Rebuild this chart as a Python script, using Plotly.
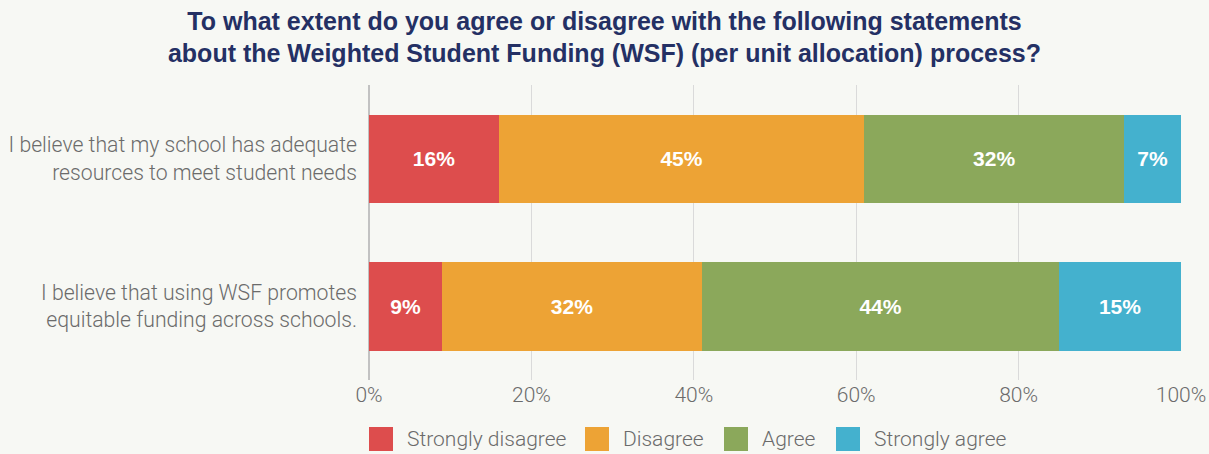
import plotly.graph_objects as go

categories = [
    "I believe that my school has adequate<br>resources to meet student needs",
    "I believe that using WSF promotes<br>equitable funding across schools.",
]
series_names = ["Strongly disagree", "Disagree", "Agree", "Strongly agree"]
strongly_disagree = [16, 9]
disagree = [45, 32]
agree = [32, 44]
strongly_agree = [7, 15]
tick_vals = [0, 20, 40, 60, 80, 100]
tick_text = ["0%", "20%", "40%", "60%", "80%", "100%"]

colors = ["#DD4D4D", "#EDA335", "#8BA85B", "#44B1CE"]
values = [strongly_disagree, disagree, agree, strongly_agree]

W, H = 1209, 454
ML, MR, MT, MB = 369, 28, 85, 74
PW, PH = W - ML - MR, H - MT - MB
LIGHT = dict(family="Roboto", weight=300, color="#6b6b6b")

fig = go.Figure()
for name, vals, col in zip(series_names, values, colors):
    fig.add_trace(go.Bar(
        y=categories, x=vals, name=name, orientation="h",
        marker=dict(color=col, line=dict(width=0)),
        text=[f"{v}%" for v in vals], textposition="inside",
        insidetextanchor="middle",
        textfont=dict(color="white", size=21, family="Liberation Sans"),
        texttemplate="<b>%{text}</b>",
        width=0.6, showlegend=False,
    ))

# custom legend (large square swatches), positioned in pixel terms
legend_px = [369, 585, 724, 836]
shapes, annots = [], []
for name, col, px in zip(series_names, colors, legend_px):
    shapes.append(dict(type="rect", xref="paper", yref="paper",
                       x0=(px - ML) / PW, x1=(px + 24 - ML) / PW,
                       y0=(H - MB - 451) / PH, y1=(H - MB - 427) / PH,
                       fillcolor=col, line=dict(width=0)))
    annots.append(dict(text=name, xref="paper", yref="paper",
                       x=(px + 36 - ML) / PW, y=(H - MB - 439) / PH,
                       xanchor="left", yanchor="middle", showarrow=False,
                       font=dict(size=21, **LIGHT)))

fig.update_layout(
    barmode="stack",
    width=W, height=H,
    paper_bgcolor="#F7F8F4", plot_bgcolor="#F7F8F4",
    margin=dict(l=ML, r=MR, t=MT, b=MB, autoexpand=False),
    title=dict(
        text="<b>To what extent do you agree or disagree with the following statements<br>about the Weighted Student Funding (WSF) (per unit allocation) process?</b>",
        x=0.5, xanchor="center", y=0.935, yanchor="top",
        font=dict(family="Liberation Sans", size=25, color="#243064"),
    ),
    font=dict(size=21, **LIGHT),
    xaxis=dict(
        range=[0, 100], tickvals=tick_vals, ticktext=tick_text,
        showgrid=True, gridcolor="#DADADA", gridwidth=1,
        zeroline=True, zerolinecolor="#C2C2C2", zerolinewidth=2,
        tickfont=dict(size=21, **LIGHT),
        fixedrange=True, automargin=False,
    ),
    yaxis=dict(
        categoryorder="array", categoryarray=categories,
        range=[1.5, -0.5],
        tickfont=dict(size=21.2, **LIGHT),
        ticklabelstandoff=11, automargin=False, fixedrange=True,
    ),
    shapes=shapes,
    annotations=annots,
    showlegend=False,
)

fig.write_html("out.html", config={"displayModeBar": False},
               post_script="document.body.style.margin='0';document.body.style.overflow='hidden';")
